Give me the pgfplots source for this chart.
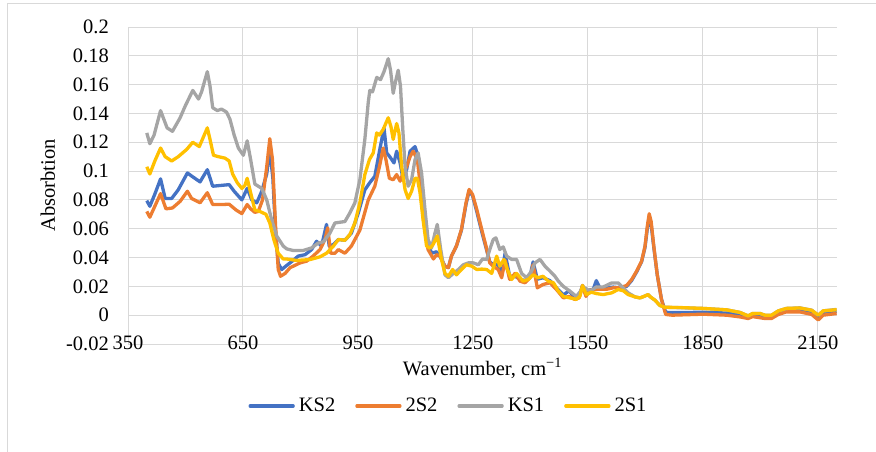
\documentclass[border=0pt]{standalone}
\usepackage{pgfplots}
\pgfplotsset{compat=1.18}
\usepackage{pgfplotstable}
\usepackage{fontspec}
\setmainfont{Liberation Serif}
\definecolor{cKSa}{HTML}{4472C4}
\definecolor{cSSa}{HTML}{ED7D31}
\definecolor{cKSb}{HTML}{A5A5A5}
\definecolor{cSSb}{HTML}{FFC000}
\definecolor{gridc}{HTML}{D9D9D9}

\pgfplotstableread{
x y
399 0.0795
407 0.0756
420 0.084
435 0.0946
447 0.081
464 0.081
481 0.087
505 0.0987
519 0.096
538 0.0925
557 0.101
571 0.0895
590 0.090
614 0.0906
627 0.086
647 0.080
661 0.088
673 0.080
686 0.078
699 0.086
712 0.098
720 0.115
728 0.095
735 0.058
742 0.036
751 0.0317
764 0.0345
781 0.038
794 0.041
812 0.042
829 0.0455
842 0.0513
855 0.048
868 0.063
875 0.048
886 0.049
899 0.0525
916 0.052
933 0.057
951 0.071
968 0.087
981 0.092
994 0.0964
1007 0.115
1018 0.130
1025 0.1126
1033 0.110
1044 0.1057
1051 0.1138
1060 0.1057
1068 0.094
1077 0.101
1086 0.1138
1099 0.117
1107 0.110
1116 0.0895
1125 0.066
1133 0.050
1142 0.043
1155 0.044
1164 0.041
1177 0.034
1186 0.033
1194 0.041
1207 0.048
1220 0.059
1232 0.077
1240 0.086
1249 0.083
1260 0.072
1273 0.058
1284 0.047
1294 0.037
1303 0.035
1310 0.035
1316 0.035
1325 0.028
1334 0.043
1346 0.027
1360 0.027
1373 0.025
1386 0.024
1399 0.027
1407 0.037
1418 0.025
1433 0.026
1451 0.024
1468 0.019
1486 0.014
1501 0.017
1516 0.012
1527 0.013
1536 0.0206
1545 0.014
1555 0.0175
1564 0.018
1572 0.024
1581 0.019
1599 0.019
1616 0.0195
1633 0.019
1651 0.020
1664 0.024
1677 0.030
1690 0.037
1699 0.047
1705 0.060
1710 0.068
1715 0.063
1722 0.047
1731 0.028
1742 0.011
1753 0.002
1770 0.0018
1851 0.002
1912 0.0015
1947 0.0
1968 -0.0015
1980 0.0
2012 -0.001
2029 -0.001
2047 0.002
2068 0.0035
2103 0.0037
2134 0.002
2151 -0.0015
2164 0.0015
2199 0.0025
}\tKSa

\pgfplotstableread{
x y
399 0.072
407 0.068
420 0.0756
435 0.0844
449 0.0738
466 0.0744
486 0.079
505 0.086
516 0.081
538 0.078
557 0.085
571 0.0768
594 0.0768
614 0.077
632 0.073
647 0.0705
661 0.0768
670 0.0738
681 0.0714
690 0.072
701 0.080
712 0.103
720 0.1225
727 0.108
735 0.062
742 0.0317
748 0.027
760 0.029
773 0.033
781 0.034
799 0.0363
816 0.0375
833 0.041
851 0.0455
864 0.0525
871 0.0606
879 0.043
890 0.043
899 0.0455
916 0.043
933 0.048
955 0.059
977 0.080
994 0.0895
1006 0.103
1016 0.116
1023 0.108
1032 0.095
1042 0.094
1051 0.0976
1060 0.093
1068 0.0987
1077 0.103
1086 0.110
1094 0.1138
1105 0.108
1113 0.0895
1122 0.064
1133 0.0455
1147 0.039
1155 0.042
1164 0.041
1177 0.034
1186 0.033
1194 0.041
1207 0.048
1220 0.0595
1232 0.078
1240 0.0873
1249 0.0838
1260 0.0734
1273 0.0595
1284 0.048
1294 0.0363
1303 0.034
1316 0.0317
1325 0.026
1334 0.038
1346 0.0248
1360 0.029
1373 0.0236
1386 0.0225
1399 0.026
1407 0.035
1418 0.019
1433 0.0213
1451 0.0225
1468 0.0178
1486 0.012
1501 0.013
1516 0.0109
1527 0.012
1536 0.0206
1545 0.013
1555 0.0173
1564 0.0178
1581 0.018
1599 0.018
1616 0.019
1633 0.019
1651 0.0206
1664 0.0247
1677 0.0305
1690 0.0374
1699 0.0478
1705 0.0617
1710 0.0704
1715 0.0651
1722 0.0478
1731 0.028
1742 0.0109
1753 0.0005
1770 0.0
1851 0.0007
1912 0.0
1947 -0.0012
1968 -0.0023
1980 -0.001
2012 -0.0023
2029 -0.0023
2047 0.0005
2068 0.0023
2103 0.0023
2134 0.0005
2151 -0.0033
2164 0.0
2199 0.0012
}\tSSa

\pgfplotstableread{
x y
399 0.1265
407 0.119
418 0.125
435 0.142
442 0.137
452 0.130
466 0.1276
486 0.137
499 0.145
519 0.156
534 0.150
542 0.155
557 0.169
564 0.159
571 0.144
583 0.142
594 0.143
607 0.141
616 0.136
627 0.125
638 0.116
651 0.111
661 0.121
670 0.108
681 0.091
699 0.088
712 0.080
725 0.066
738 0.055
755 0.048
764 0.046
781 0.0449
807 0.0449
829 0.0467
846 0.050
860 0.051
877 0.057
890 0.064
903 0.0645
916 0.065
929 0.071
942 0.078
955 0.094
968 0.122
977 0.148
981 0.156
988 0.155
999 0.165
1009 0.1635
1018 0.169
1029 0.178
1035 0.170
1042 0.154
1048 0.162
1055 0.170
1061 0.159
1067 0.129
1073 0.103
1081 0.0895
1090 0.094
1099 0.108
1107 0.1126
1116 0.0987
1125 0.073
1133 0.0525
1142 0.0467
1151 0.057
1157 0.063
1166 0.0456
1177 0.028
1186 0.026
1199 0.029
1212 0.0317
1225 0.035
1238 0.0363
1251 0.0363
1264 0.035
1275 0.039
1286 0.0387
1294 0.0456
1303 0.0525
1310 0.0537
1320 0.0456
1329 0.0474
1338 0.041
1351 0.0387
1364 0.0387
1377 0.029
1390 0.026
1403 0.0306
1412 0.0363
1425 0.0387
1438 0.034
1451 0.0306
1464 0.027
1473 0.0236
1486 0.020
1503 0.0167
1520 0.013
1529 0.016
1538 0.0195
1551 0.0175
1559 0.0173
1572 0.0196
1590 0.0196
1612 0.0224
1629 0.0224
1642 0.019
1655 0.0155
1673 0.0127
1686 0.012
1696 0.013
1707 0.0143
1713 0.0127
1725 0.0104
1738 0.0067
1751 0.0055
1790 0.0052
1851 0.0047
1912 0.0037
1947 0.0019
1968 -0.0005
1980 0.0012
1999 0.0012
2012 0.0
2029 0.0
2047 0.003
2068 0.0047
2103 0.0051
2134 0.0035
2151 0.0
2164 0.003
2199 0.004
}\tKSb

\pgfplotstableread{
x y
399 0.103
407 0.098
420 0.107
435 0.116
447 0.110
464 0.107
481 0.110
503 0.115
519 0.120
536 0.117
557 0.130
564 0.122
573 0.111
586 0.110
603 0.109
614 0.107
623 0.098
635 0.092
647 0.088
655 0.090
661 0.095
670 0.085
681 0.073
694 0.072
710 0.070
720 0.064
731 0.052
742 0.043
755 0.039
764 0.039
790 0.038
825 0.0386
851 0.0405
868 0.043
886 0.048
899 0.0525
916 0.052
929 0.056
942 0.064
955 0.078
968 0.0976
980 0.108
990 0.1126
999 0.1265
1006 0.125
1016 0.129
1029 0.137
1036 0.131
1042 0.122
1051 0.133
1057 0.1265
1064 0.103
1073 0.087
1081 0.081
1090 0.086
1099 0.095
1105 0.095
1112 0.085
1120 0.066
1129 0.048
1138 0.0465
1146 0.049
1157 0.055
1168 0.0387
1177 0.029
1186 0.027
1197 0.0317
1207 0.028
1220 0.0317
1233 0.035
1247 0.034
1260 0.0317
1273 0.032
1286 0.0317
1299 0.029
1312 0.041
1320 0.034
1331 0.0387
1340 0.0317
1351 0.0248
1364 0.029
1381 0.0236
1394 0.0248
1407 0.028
1420 0.026
1433 0.027
1447 0.0236
1460 0.0225
1473 0.0167
1486 0.013
1503 0.012
1520 0.011
1529 0.013
1536 0.0206
1546 0.0143
1559 0.016
1572 0.015
1590 0.0143
1612 0.0155
1629 0.0178
1642 0.017
1655 0.0143
1673 0.0127
1686 0.012
1696 0.013
1707 0.0143
1713 0.0127
1725 0.0104
1738 0.0067
1751 0.0055
1790 0.0053
1851 0.0047
1912 0.0037
1947 0.0019
1968 -0.0005
1980 0.0012
1999 0.0012
2012 0.0
2029 0.0
2047 0.003
2068 0.0047
2103 0.0050
2134 0.0034
2151 0.0
2164 0.003
2199 0.0038
}\tSSb

\begin{document}
\fontsize{20.5bp}{24bp}\selectfont
\begin{tikzpicture}
\useasboundingbox (0,0) rectangle (876bp,-452bp);
\draw[gridc, line width=1bp] (7.5bp,-452bp) -- (7.5bp,-3.5bp) -- (876bp,-3.5bp);
\begin{axis}[
  at={(128bp,-344bp)}, anchor=south west,
  width=709bp, height=317bp, scale only axis,
  xmin=350, xmax=2200, ymin=-0.02, ymax=0.2,
  xtick={350,650,950,1250,1550,1850,2150},
  xticklabels={350,650,950,1250,1550,1850,2150},
  ytick={-0.02,0,0.02,0.04,0.06,0.08,0.1,0.12,0.14,0.16,0.18,0.2},
  yticklabels={-0.02,0,0.02,0.04,0.06,0.08,0.1,0.12,0.14,0.16,0.18,0.2},
  grid=major,
  major grid style={gridc, line width=1bp},
  axis line style={draw=none},
  major tick length=0pt,
  xticklabel style={anchor=center, yshift=1.5bp},
  yticklabel style={anchor=east, inner sep=0pt, xshift=-19bp},
  xlabel={Wavenumber, cm\textsuperscript{−1}},
  xlabel style={at={(axis description cs:0.5,0)}, anchor=base, yshift=-31bp},
  ylabel={Absorbtion},
  ylabel style={at={(axis description cs:-0.103,0.5)}, anchor=base, rotate=0},
  legend columns=4,
  legend style={at={(axis description cs:0.4513,-0.1956)}, anchor=center, draw=none, fill=none,
    /tikz/every odd column/.append style={column sep=3bp},
    /tikz/every even column/.append style={column sep=19bp},
    nodes={inner sep=1bp}},
  legend image code/.code={\draw[#1, line width=3.3bp, line cap=round] (0bp,0bp) -- (43bp,0bp);},
]
\addplot[cKSa, line width=3.3bp, line join=round] table[x=x,y=y] {\tKSa};
\addlegendentry{KS2}
\addplot[cSSa, line width=3.3bp, line join=round] table[x=x,y=y] {\tSSa};
\addlegendentry{2S2}
\addplot[cKSb, line width=3.3bp, line join=round] table[x=x,y=y] {\tKSb};
\addlegendentry{KS1}
\addplot[cSSb, line width=3.3bp, line join=round] table[x=x,y=y] {\tSSb};
\addlegendentry{2S1}
\end{axis}
\end{tikzpicture}
\end{document}
